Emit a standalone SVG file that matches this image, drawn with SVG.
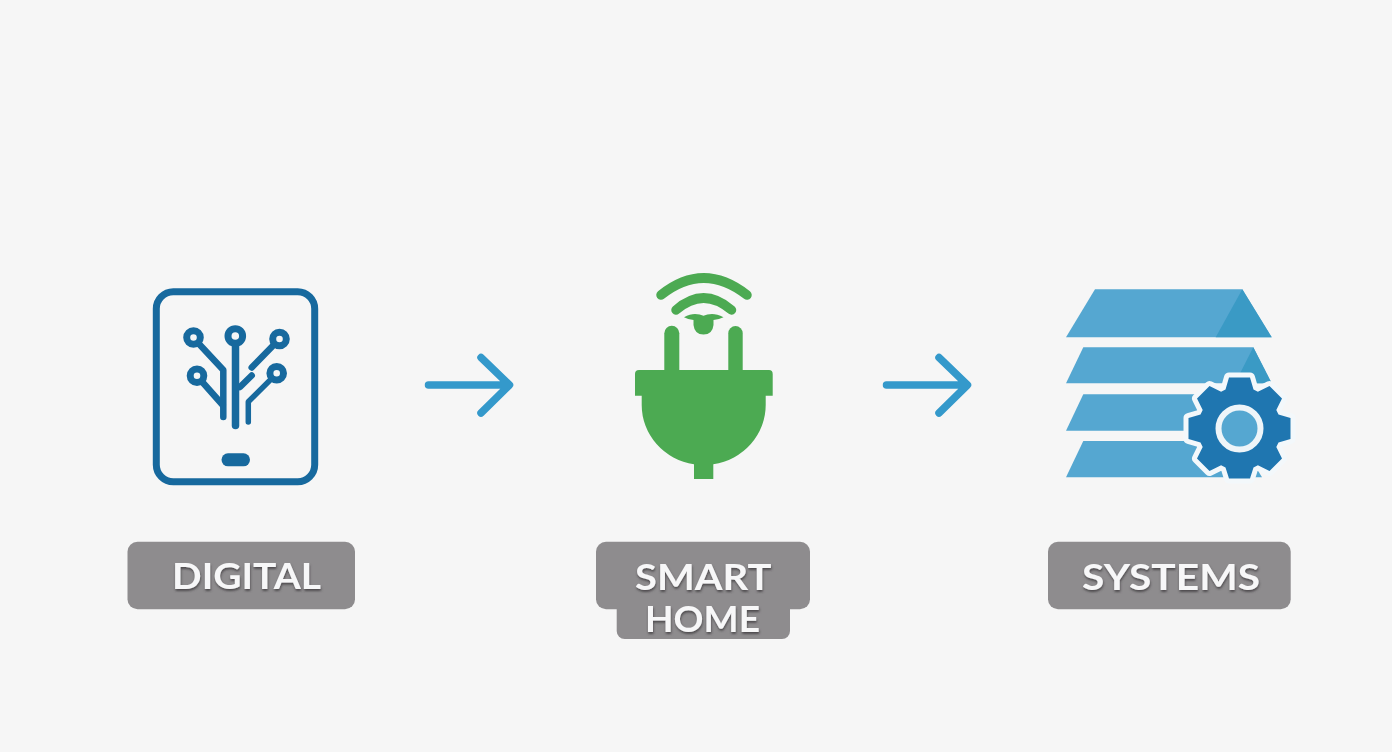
<svg xmlns="http://www.w3.org/2000/svg" width="1392" height="752" viewBox="0 0 1392 752">
  <style>
    .tablet { fill: none; stroke: #17699e; stroke-linecap: round; stroke-linejoin: round; }
    .dot { fill: #f5f6f6; stroke: #17699e; stroke-width: 7; }
    .plug { fill: #4caa52; }
    .wave { fill: none; stroke: #4caa52; stroke-width: 9.500; stroke-linecap: round; }
    .layer { fill: #55a7d1; }
    .shade { fill: #3a9ac5; }
    .tag { fill: #8e8c8e; }
    .label { font-family: "Lato", "Liberation Sans", sans-serif; font-weight: 700; font-size: 37px; fill: #f7f7f8; filter: url(#ts); }
    .arrow { fill: none; stroke: #3499cb; stroke-width: 7.500; stroke-linecap: round; stroke-linejoin: round; }
  </style>
  <defs>
    <filter id="ts" x="-10%" y="-20%" width="120%" height="150%">
      <feDropShadow dx="0.5" dy="2" stdDeviation="1.1" flood-color="#3c3a40" flood-opacity="0.8"/>
    </filter>
    <polygon id="gearShape" points="-14,-39 -10.500,-51 10.500,-51 14,-39 18.400,-36.800 30,-42.500 42.500,-30 36.800,-18.400 39,-14 51,-10.500 51,10.500 39,14 36.800,18.400 42.500,30 30,42.500 18.400,36.800 14,39 10.500,50 -10.500,50 -14,39 -18.400,36.800 -30,42.500 -42.500,30 -36.800,18.400 -39,14 -51,10.500 -51,-10.500 -39,-14 -36.800,-18.400 -42.500,-30 -30,-42.500 -18.400,-36.800"/>
  </defs>
  <rect width="1392" height="752" fill="#f6f6f6"/>

  <g id="connectors">
    <path class="arrow" d="M428.500 385H509M481 357.500L509.500 385L481 413"/>
    <path class="arrow" d="M886.500 385H967M939 357.500L967.500 385L939 413"/>
  </g>

  <g id="node-digital">
    <rect class="tablet" x="156.300" y="291.700" width="158.400" height="190" rx="17" stroke-width="7"/>
    <g class="tablet" stroke-width="6.500">
      <path d="M193.500 338L223.300 370V417"/>
      <path d="M197 376L222.700 405"/>
      <path d="M279.500 339L251.700 367.500"/>
      <path d="M251.700 375.500L240 387"/>
      <path d="M276.700 373.500L248.300 401.700V422" stroke-width="5.500"/>
      <path d="M235.500 336V425.500" stroke-width="7.500"/>
    </g>
    <circle class="dot" cx="193.500" cy="337.500" r="6.800"/>
    <circle class="dot" cx="197" cy="375.700" r="6.800"/>
    <circle class="dot" cx="279.500" cy="339" r="6.800"/>
    <circle class="dot" cx="276.700" cy="373.300" r="6.800"/>
    <circle class="dot" cx="235.300" cy="336" r="7.300" stroke-width="7.500"/>
    <rect x="221.500" y="453.300" width="28.500" height="13" rx="6.500" fill="#17699e"/>
  </g>

  <g id="node-smart-home">
    <path class="wave" d="M661 295Q703.500 261 747 295"/>
    <path class="wave" d="M676 310Q703.500 286 731.500 310" stroke-width="8"/>
    <path class="plug" d="M684 317.300Q690 314 695 314Q700 314 703.500 315.700Q707 314 712 314Q717 314 723.500 317.300Q718 320 713.500 320V325Q712.500 334.500 703.500 334.500Q694.500 334.500 693.500 325V320Q689 320 684 317.300Z"/>
    <path class="plug" d="M664.300 372V333.300A7.500 7.500 0 0 1 679.300 333.300V372Z"/>
    <path class="plug" d="M728.300 372V333.300A7.200 7.200 0 0 1 742.700 333.300V372Z"/>
    <path class="plug" d="M639 370H769Q772.700 370 772.700 374V395.700H765.700V405A62 60 0 0 1 713.300 464.300V479H694V464.300A62 60 0 0 1 641.700 405V395.700H635V374Q635 370 639 370Z"/>
  </g>

  <g id="node-systems">
    <polygon class="layer" points="1095,289.300 1242.300,289.300 1271.700,337.300 1066,337.300"/>
    <polygon class="shade" points="1242.300,289.300 1271.700,337.300 1215.700,337.300"/>
    <polygon class="layer" points="1083.300,347.300 1253.300,347.300 1271.700,383.300 1066,383.300"/>
    <polygon class="shade" points="1253.300,347.300 1271.700,383.300 1235,383.300"/>
    <polygon class="layer" points="1083.300,394.300 1240,394.300 1240,430.700 1066,430.700"/>
    <polygon class="layer" points="1083.300,441 1240,441 1262,477.300 1066,477.300"/>
    <g transform="translate(1239.500 428.500)">
      <use href="#gearShape" fill="#f3f8fb" stroke="#f3f8fb" stroke-width="10" stroke-linejoin="round"/>
      <use href="#gearShape" fill="#1f76b0"/>
      <circle r="21" fill="#55a7d1" stroke="#eef5f9" stroke-width="6"/>
    </g>
  </g>

  <g id="label-digital">
    <rect class="tag" x="127.500" y="541.700" width="227.500" height="67.500" rx="10"/>
    <text class="label" x="172" y="589" textLength="149" lengthAdjust="spacingAndGlyphs">DIGITAL</text>
  </g>
  <g id="label-smart-home">
    <rect class="tag" x="616.700" y="590" width="173.300" height="49" rx="8"/>
    <rect class="tag" x="596" y="541.700" width="214" height="67.500" rx="10"/>
    <text class="label" x="635" y="590" textLength="136.500" lengthAdjust="spacingAndGlyphs">SMART</text>
    <text class="label" x="645" y="632" textLength="115" lengthAdjust="spacingAndGlyphs">HOME</text>
  </g>
  <g id="label-systems">
    <rect class="tag" x="1048" y="541.700" width="242.700" height="67.500" rx="10"/>
    <text class="label" x="1082" y="590" textLength="178" lengthAdjust="spacingAndGlyphs">SYSTEMS</text>
  </g>
</svg>
